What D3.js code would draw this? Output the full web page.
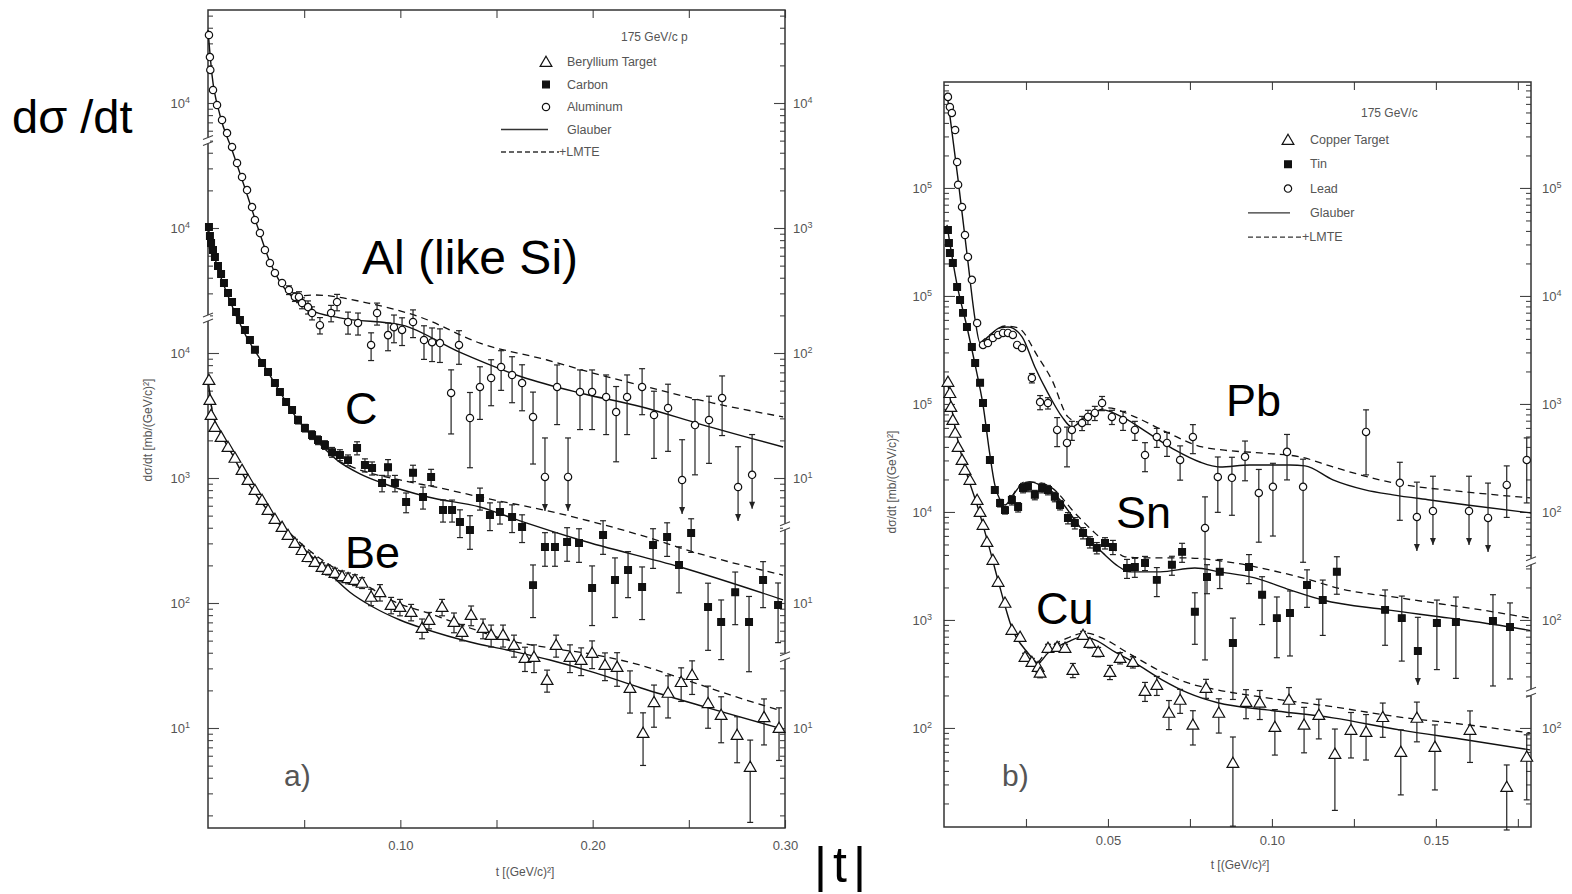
<!DOCTYPE html>
<html>
<head>
<meta charset="utf-8">
<script src="https://cdn.jsdelivr.net/npm/d3@7"></script>
<style>
  body { margin: 0; background: #fff; }
  svg { display: block; }
  .scan { font-family: "Liberation Sans", Arial, sans-serif; fill: #555; }
  .big { font-family: "Liberation Sans", Arial, sans-serif; fill: #000; }
</style>
</head>
<body>
<svg width="1572" height="894"></svg>
<script>
// ---------- panel a) 175 GeV/c p on Be, C, Al ----------
// points are [t, dsigma/dt, relative error]; e >= 1 means upper limit (arrow)
var beData = [[0.0005,6080,0.04],[0.0010,4210,0.04],[0.0016,3190,0.04],[0.0036,2560,0.04],[0.0068,2130,0.04],[0.0104,1770,0.04],[0.0140,1450,0.04],[0.0177,1160,0.05],[0.0208,964,0.05],[0.0244,802,0.05],[0.0281,667,0.05],[0.0312,555,0.05],[0.0348,470,0.06],[0.0385,406,0.06],[0.0416,350,0.06],[0.0452,302,0.07],[0.0489,265,0.07],[0.0520,233,0.08],[0.0556,213,0.08],[0.0593,194,0.08],[0.0624,184,0.09],[0.0660,174,0.09],[0.0697,164,0.1],[0.0728,158,0.1],[0.0764,153,0.1],[0.0801,145,0.1],[0.0848,112,0.15],[0.0894,122,0.15],[0.0952,96.4,0.15],[0.0998,92.9,0.15],[0.1056,84.7,0.15],[0.1113,63.1,0.18],[0.1149,73.1,0.15],[0.1217,92.9,0.15],[0.1279,70.5,0.18],[0.1321,58.6,0.15],[0.1368,80.2,0.18],[0.1430,63.1,0.18],[0.1472,55.5,0.2],[0.1534,55.5,0.2],[0.1591,46.1,0.2],[0.1648,36.3,0.22],[0.1695,37.0,0.25],[0.1763,24.2,0.2],[0.1810,46.1,0.2],[0.1882,37.0,0.25],[0.1940,35.0,0.25],[0.1997,39.8,0.25],[0.2064,31.9,0.25],[0.2127,30.8,0.3],[0.2194,20.9,0.37],[0.2262,9.12,0.45],[0.2319,16.1,0.37],[0.2392,19.1,0.37],[0.2460,23.3,0.3],[0.2517,26.5,0.3],[0.2600,15.8,0.37],[0.2668,12.7,0.4],[0.2751,8.79,0.4],[0.2819,4.88,0.64],[0.2891,12.2,0.4],[0.2969,10.0,0.45]];
var cData = [[0.0005,10200,0.03],[0.0010,8630,0.03],[0.0016,7590,0.03],[0.0026,6670,0.03],[0.0036,5860,0.03],[0.0052,4970,0.03],[0.0068,4290,0.03],[0.0083,3630,0.03],[0.0104,3020,0.03],[0.0125,2560,0.03],[0.0146,2130,0.04],[0.0166,1840,0.04],[0.0192,1530,0.04],[0.0218,1270,0.04],[0.0244,1060,0.05],[0.0281,832,0.05],[0.0312,705,0.05],[0.0348,575,0.05],[0.0374,488,0.06],[0.0406,406,0.06],[0.0437,350,0.06],[0.0468,291,0.07],[0.0504,251,0.07],[0.0541,221,0.08],[0.0572,201,0.08],[0.0608,184,0.08],[0.0645,161,0.09],[0.0686,153,0.1],[0.0728,139,0.1],[0.0775,174,0.12],[0.0816,127,0.12],[0.0853,120,0.12],[0.0905,91.2,0.15],[0.0936,122,0.15],[0.0972,91.2,0.15],[0.1030,64.3,0.18],[0.1066,110,0.15],[0.1118,70.5,0.2],[0.1160,102,0.15],[0.1222,55.5,0.2],[0.1269,55.5,0.2],[0.1310,44.5,0.25],[0.1362,38.4,0.3],[0.1414,69.2,0.2],[0.1466,50.6,0.25],[0.1518,53.5,0.2],[0.1581,48.8,0.25],[0.1633,40.6,0.25],[0.1690,13.9,0.45],[0.1752,28.1,0.3],[0.1804,28.1,0.3],[0.1867,30.8,0.3],[0.1929,30.2,0.3],[0.1997,13.2,0.5],[0.2054,35.0,0.3],[0.2116,15.3,0.5],[0.2184,18.4,0.4],[0.2257,13.4,0.45],[0.2314,29.1,0.35],[0.2387,33.7,0.3],[0.2449,20.1,0.4],[0.2512,36.3,0.3],[0.2600,9.29,0.55],[0.2668,7.05,0.5],[0.2741,12.2,0.45],[0.2813,7.05,0.6],[0.2886,15.3,0.4],[0.2964,9.64,0.5]];
var alData = [[0.0005,35000,0.03],[0.0010,23300,0.03],[0.0012,18400,0.03],[0.0026,12700,0.03],[0.0047,9640,0.03],[0.0073,7310,0.03],[0.0099,5750,0.03],[0.0125,4450,0.03],[0.0151,3310,0.03],[0.0177,2560,0.03],[0.0203,2010,0.04],[0.0229,1470,0.04],[0.0244,1160,0.04],[0.0270,912,0.04],[0.0296,667,0.05],[0.0322,525,0.05],[0.0348,437,0.06],[0.0385,363,0.06],[0.0421,319,0.08],[0.0452,281,0.08],[0.0473,281,0.1],[0.0489,251,0.1],[0.0520,233,0.12],[0.0541,209,0.12],[0.0582,167,0.15],[0.0640,209,0.15],[0.0671,256,0.15],[0.0728,177,0.2],[0.0780,174,0.2],[0.0848,116,0.25],[0.0879,209,0.2],[0.0936,139,0.25],[0.0967,161,0.25],[0.1009,153,0.25],[0.1066,177,0.25],[0.1123,127,0.3],[0.1165,122,0.3],[0.1206,120,0.3],[0.1264,47.9,0.53],[0.1305,116,0.3],[0.1362,30.2,0.6],[0.1414,53.5,0.45],[0.1472,63.1,0.4],[0.1524,77.3,0.35],[0.1581,66.7,0.4],[0.1633,57.5,0.4],[0.1690,30.8,0.58],[0.1752,10.2,1.05],[0.1815,53.5,0.5],[0.1872,10.2,1.05],[0.1934,48.8,0.5],[0.1997,48.8,0.5],[0.2070,44.5,0.5],[0.2122,33.7,0.6],[0.2179,44.5,0.5],[0.2257,53.5,0.4],[0.2319,31.9,0.55],[0.2392,36.3,0.55],[0.2465,9.64,1.1],[0.2532,26.5,0.6],[0.2605,29.1,0.55],[0.2673,43.7,0.5],[0.2756,8.47,1.1],[0.2829,10.6,1.1]];

var beGlauber = [[0,6310],[0.0021,3500],[0.0062,2330],[0.0114,1670],[0.0192,1000],[0.0281,631],[0.0374,421],[0.0504,265],[0.0624,177],[0.0738,122],[0.0858,92.9],[0.0998,73.1],[0.1144,60.8],[0.1362,48.8],[0.1555,42.1],[0.1778,35.0],[0.2018,27.5],[0.2252,20.9],[0.2600,14.5],[0.2969,10.0]];
var beLMTE = [[0,6310],[0.0021,3500],[0.0062,2330],[0.0114,1670],[0.0192,1000],[0.0281,631],[0.0374,437],[0.0504,281],[0.0634,201],[0.0801,145],[0.0972,102],[0.1144,83.2],[0.1362,63.1],[0.1555,50.6],[0.1778,43.7],[0.2018,38.4],[0.2246,31.9],[0.2486,24.2],[0.2715,18.4],[0.2969,13.9]];
var cGlauber = [[0,10200],[0.0036,5750],[0.0104,2860],[0.0192,1420],[0.0281,847],[0.0374,488],[0.0468,291],[0.0572,194],[0.0676,137],[0.0790,108],[0.0905,91.2],[0.1144,70.5],[0.1414,58.6],[0.1638,44.5],[0.1934,31.9],[0.2455,19.4],[0.2990,10.6]];
var cLMTE = [[0.0676,137],[0.0790,116],[0.0998,96.4],[0.1206,83.2],[0.1414,70.5],[0.1815,52.5],[0.2246,35.0],[0.2543,25.1],[0.2990,16.7]];
var alGlauber = [[0,38400],[0.0021,16700],[0.0062,8020],[0.0125,4210],[0.0192,2090],[0.0260,1000],[0.0322,535],[0.0374,370],[0.0437,281],[0.0530,221],[0.0686,191],[0.1009,167],[0.1305,102],[0.1633,64.3],[0.1934,47.9],[0.2257,37.0],[0.2558,27.0],[0.2990,17.7]];
var alLMTE = [[0.0437,281],[0.0556,291],[0.0832,251],[0.1102,194],[0.1414,120],[0.1763,87.9],[0.2038,66.7],[0.2283,53.5],[0.2626,39.8],[0.2990,30.8]];

// each target is moved up by a decade so the curves don't overlap
var beShift = 1, cShift = 10, alShift = 100;

var aXTicks = [0.05, 0.10, 0.15, 0.20, 0.25, 0.30];
var aXLabels = {"0.1": "0.10", "0.2": "0.20", "0.3": "0.30"};
var aDecades = [1, 2, 3, 4, 5, 6];
var aLeftExp = [1, 2, 3, 4, 4, 4];
var aRightExp = [1, 1, 1, 2, 3, 4];
var aLegend = ["Beryllium Target", "Carbon", "Aluminum", "Glauber", "+LMTE"];

// ---------- panel b) 175 GeV/c on Cu, Sn, Pb ----------
var cuData = [[0.0012,160000,0.03],[0.0018,126000,0.03],[0.0021,93800,0.03],[0.0027,71100,0.03],[0.0034,54000,0.03],[0.0043,40000,0.03],[0.0055,30300,0.03],[0.0064,24500,0.03],[0.0079,19800,0.03],[0.0101,12900,0.03],[0.0110,10000,0.03],[0.0119,7590,0.04],[0.0131,5270,0.04],[0.0149,3600,0.04],[0.0165,2250,0.05],[0.0186,1440,0.05],[0.0207,809,0.06],[0.0232,697,0.06],[0.0247,455,0.08],[0.0268,408,0.08],[0.0287,367,0.1],[0.0293,324,0.1],[0.0317,551,0.08],[0.0345,562,0.08],[0.0369,551,0.08],[0.0393,344,0.15],[0.0424,726,0.08],[0.0445,612,0.1],[0.0470,506,0.1],[0.0506,330,0.15],[0.0537,445,0.12],[0.0576,408,0.12],[0.0613,220,0.2],[0.0649,250,0.2],[0.0686,138,0.3],[0.0720,182,0.25],[0.0759,107,0.35],[0.0799,235,0.2],[0.0838,138,0.35],[0.0881,47.4,0.74],[0.0921,174,0.3],[0.0963,171,0.3],[0.1009,102,0.45],[0.1052,182,0.3],[0.1098,107,0.45],[0.1143,132,0.4],[0.1192,57.5,0.7],[0.1241,95.9,0.45],[0.1287,91.8,0.45],[0.1338,126,0.35],[0.1393,60.0,0.6],[0.1442,124,0.4],[0.1497,66.7,0.6],[0.1604,95.9,0.5],[0.1716,28.4,0.6],[0.1777,54.0,0.6]];
var snData = [[0.0012,408000,0.03],[0.0015,310000,0.03],[0.0018,250000,0.03],[0.0027,202000,0.03],[0.0040,121000,0.03],[0.0049,91800,0.03],[0.0058,69700,0.03],[0.0070,51600,0.03],[0.0085,33700,0.03],[0.0095,24000,0.03],[0.0110,15700,0.03],[0.0119,10200,0.04],[0.0128,6000,0.04],[0.0140,3030,0.05],[0.0155,1600,0.06],[0.0171,1210,0.08],[0.0186,1040,0.08],[0.0207,1290,0.1],[0.0226,1110,0.1],[0.0241,1670,0.1],[0.0256,1710,0.1],[0.0277,1440,0.1],[0.0299,1670,0.1],[0.0317,1600,0.1],[0.0338,1380,0.1],[0.0354,1160,0.1],[0.0378,881,0.12],[0.0399,791,0.12],[0.0424,640,0.12],[0.0445,527,0.12],[0.0466,465,0.12],[0.0491,516,0.12],[0.0515,474,0.15],[0.0558,303,0.2],[0.0582,310,0.2],[0.0613,337,0.15],[0.0649,235,0.3],[0.0695,324,0.2],[0.0726,427,0.2],[0.0765,119,0.5],[0.0802,250,0.3],[0.0841,279,0.3],[0.0881,61.2,0.7],[0.0930,310,0.3],[0.0970,171,0.47],[0.1015,104,0.57],[0.1055,116,0.6],[0.1107,211,0.38],[0.1155,153,0.53],[0.1198,279,0.38],[0.1345,124,0.53],[0.1396,104,0.6],[0.1445,51.6,1.05],[0.1503,93.8,0.63],[0.1561,95.9,0.7],[0.1674,97.9,0.75],[0.1726,86.1,0.67]];
var pbData = [[0.0012,697000,0.03],[0.0018,562000,0.03],[0.0024,495000,0.03],[0.0034,344000,0.03],[0.0040,174000,0.03],[0.0043,107000,0.03],[0.0055,66700,0.03],[0.0064,36700,0.03],[0.0073,23000,0.03],[0.0085,14100,0.03],[0.0101,5620,0.04],[0.0119,3520,0.04],[0.0134,3670,0.04],[0.0149,4080,0.04],[0.0165,4360,0.04],[0.0180,4550,0.04],[0.0195,4550,0.04],[0.0210,4360,0.05],[0.0223,3520,0.05],[0.0238,3300,0.05],[0.0268,1740,0.1],[0.0293,1040,0.15],[0.0317,1020,0.12],[0.0345,575,0.3],[0.0375,436,0.4],[0.0390,575,0.2],[0.0421,667,0.15],[0.0439,759,0.15],[0.0460,826,0.15],[0.0482,1020,0.15],[0.0512,759,0.15],[0.0546,711,0.2],[0.0582,575,0.2],[0.0613,337,0.3],[0.0649,495,0.2],[0.0680,436,0.25],[0.0720,303,0.35],[0.0759,495,0.3],[0.0796,71.1,0.94],[0.0835,211,0.53],[0.0878,207,0.55],[0.0918,324,0.4],[0.0960,150,0.65],[0.1003,171,0.65],[0.1046,360,0.45],[0.1095,171,0.8],[0.1287,551,0.6],[0.1390,186,0.55],[0.1442,89.9,1.1],[0.1491,102,1.1],[0.1601,102,1.1],[0.1659,88.1,1.1],[0.1716,178,0.5],[0.1777,303,0.6]];

var cuGlauber = [[0.0009,174000],[0.0034,60000],[0.0064,25600],[0.0101,11600],[0.0140,4450],[0.0171,1980],[0.0207,843],[0.0256,495],[0.0287,400],[0.0317,495],[0.0378,627],[0.0421,697],[0.0460,653],[0.0521,506],[0.0582,400],[0.0665,279],[0.0744,211],[0.0835,171],[0.0985,147],[0.1186,124],[0.1390,95.9],[0.1595,77.4],[0.1787,62.7]];
var cuLMTE = [[0.0287,400],[0.0317,527],[0.0378,682],[0.0430,759],[0.0482,682],[0.0561,495],[0.0665,330],[0.0744,261],[0.0835,225],[0.0985,190],[0.1186,157],[0.1390,126],[0.1595,107],[0.1787,89.9]];
var snGlauber = [[0.0009,455000],[0.0040,126000],[0.0070,51600],[0.0095,23000],[0.0119,9790],[0.0140,3370],[0.0155,1780],[0.0171,1290],[0.0186,1160],[0.0207,1380],[0.0232,1740],[0.0262,1900],[0.0293,1780],[0.0323,1600],[0.0354,1290],[0.0399,843],[0.0445,551],[0.0491,400],[0.0530,316],[0.0567,279],[0.0659,279],[0.0765,303],[0.0841,279],[0.0948,245],[0.1055,190],[0.1155,153],[0.1351,124],[0.1543,104],[0.1726,86.1],[0.1787,80]];
var snLMTE = [[0.0207,1380],[0.0247,1900],[0.0293,1860],[0.0329,1670],[0.0399,979],[0.0460,640],[0.0512,474],[0.0552,384],[0.0634,375],[0.0735,375],[0.0887,337],[0.0994,290],[0.1116,235],[0.1198,198],[0.1390,160],[0.1674,119],[0.1787,104]];
var pbGlauber = [[0.0009,759000],[0.0043,119000],[0.0073,20700],[0.0095,6000],[0.0110,3670],[0.0134,4180],[0.0170,5060],[0.0195,5160],[0.0238,4180],[0.0277,2200],[0.0317,1260],[0.0360,759],[0.0390,612],[0.0430,759],[0.0482,881],[0.0543,759],[0.0622,540],[0.0704,375],[0.0780,290],[0.0841,261],[0.0933,272],[0.1055,272],[0.1101,267],[0.1186,198],[0.1284,160],[0.1369,144],[0.1482,129],[0.1595,116],[0.1790,97.9]];
var pbLMTE = [[0.0110,3670],[0.0140,4360],[0.0186,5270],[0.0226,5060],[0.0287,2720],[0.0329,1670],[0.0378,759],[0.0409,682],[0.0451,809],[0.0500,918],[0.0582,759],[0.0683,540],[0.0787,400],[0.0848,375],[0.0963,352],[0.1085,324],[0.1186,261],[0.1369,186],[0.1595,153],[0.1787,135]];

var cuShift = 1, snShift = 10, pbShift = 100;

var bXTicks = [0.025, 0.05, 0.075, 0.10, 0.125, 0.15, 0.175];
var bXLabels = {"0.05": "0.05", "0.1": "0.10", "0.15": "0.15"};
var bDecades = [2, 3, 4, 5, 6, 7];
var bLeftExp = [2, 3, 4, 5, 5, 5];
var bRightExp = [2, 2, 2, 3, 4, 5];
var bLegend = ["Copper Target", "Tin", "Lead", "Glauber", "+LMTE"];

var svg = d3.select("svg");

function superLabel(sel, exps, decades) {
  sel.selectAll(".tick text").each(function(d) {
    var i = decades.indexOf(Math.round(Math.log10(d)));
    var t = d3.select(this).text("10");
    t.append("tspan").attr("dy", "-0.55em").attr("font-size", "9px").text(exps[i]);
  });
}

function marker(g, type, cx, cy) {
  var sym = type == "circle" ? d3.symbolCircle : type == "square" ? d3.symbolSquare : d3.symbolTriangle;
  var size = type == "circle" ? 42 : type == "square" ? 46 : 60;
  g.append("path")
    .attr("d", d3.symbol().type(sym).size(size)())
    .attr("transform", "translate(" + cx + "," + (type == "triangle" ? cy + 1 : cy) + ")")
    .attr("fill", type == "square" ? "#111" : "#fff")
    .attr("stroke", "#111").attr("stroke-width", 1.2);
}

function drawPanel(p) {
  var g = svg.append("g");
  var x = d3.scaleLinear().domain(p.xDomain).range([p.left, p.right]);
  var y = d3.scaleLog().domain(p.yDomain).range([p.bottom, p.top]);

  // x axes, ticks inside the frame
  g.append("g").attr("transform", "translate(0," + p.bottom + ")")
    .call(d3.axisBottom(x).tickValues(p.xTicks).tickSize(-8).tickPadding(p.xPad)
      .tickFormat(function(t) { return p.xLabels[String(+t.toFixed(3))] || ""; }));
  g.append("g").attr("transform", "translate(0," + p.top + ")")
    .call(d3.axisTop(x).tickValues(p.xTicks).tickSize(-8).tickFormat(""));

  // log y axes: majors with labels, minors without
  var majors = p.decades.map(function(d) { return Math.pow(10, d); });
  var minors = [];
  for (var d = Math.floor(Math.log10(p.yDomain[0])); d <= Math.ceil(Math.log10(p.yDomain[1])); d++) {
    for (var k = 2; k < 10; k++) {
      var v = k * Math.pow(10, d);
      if (v > p.yDomain[0] && v < p.yDomain[1]) minors.push(v);
    }
  }
  var yl = g.append("g").attr("transform", "translate(" + p.left + ",0)")
    .call(d3.axisLeft(y).tickValues(majors).tickSize(-11).tickPadding(p.leftPad));
  superLabel(yl, p.leftExp, p.decades);
  g.append("g").attr("transform", "translate(" + p.left + ",0)")
    .call(d3.axisLeft(y).tickValues(minors).tickSize(-5).tickFormat(""));
  var yr = g.append("g").attr("transform", "translate(" + p.right + ",0)")
    .call(d3.axisRight(y).tickValues(majors).tickSize(-11).tickPadding(p.rightPad));
  superLabel(yr, p.rightExp, p.decades);
  g.append("g").attr("transform", "translate(" + p.right + ",0)")
    .call(d3.axisRight(y).tickValues(minors).tickSize(-5).tickFormat(""));

  g.selectAll(".domain").remove();
  g.selectAll(".tick line").attr("stroke", "#444").attr("stroke-width", 1.1);
  g.selectAll(".tick text").attr("class", "scan").attr("font-size", "13px")
    .attr("font-family", "Liberation Sans, Arial, sans-serif").attr("fill", "#555");

  g.append("rect")
    .attr("x", p.left).attr("y", p.top)
    .attr("width", p.right - p.left).attr("height", p.bottom - p.top)
    .attr("fill", "none").attr("stroke", "#333").attr("stroke-width", 1.5);

  // scale breaks on the side axes
  p.breaks.forEach(function(b) {
    var bx = b[0] == "L" ? p.left : p.right, by = y(b[1]);
    g.append("rect").attr("x", bx - 2).attr("y", by - 3).attr("width", 4).attr("height", 6).attr("fill", "#fff");
    [-3, 3].forEach(function(o) {
      g.append("line").attr("x1", bx - 5).attr("x2", bx + 5)
        .attr("y1", by + o + 2).attr("y2", by + o - 2)
        .attr("stroke", "#444").attr("stroke-width", 1.1);
    });
  });

  // theory curves
  p.series.forEach(function(s) {
    var line = d3.line()
      .x(function(d) { return x(d[0]); })
      .y(function(d) { return y(d[1] * s.shift); })
      .curve(d3.curveMonotoneX);
    g.append("path").datum(s.glauber).attr("d", line)
      .attr("fill", "none").attr("stroke", "#111").attr("stroke-width", 1.4);
    g.append("path").datum(s.lmte).attr("d", line)
      .attr("fill", "none").attr("stroke", "#111").attr("stroke-width", 1.3)
      .attr("stroke-dasharray", "7,5");
  });

  // error bars, upper limits get an arrow
  p.series.forEach(function(s) {
    s.data.forEach(function(d) {
      var cx = x(d[0]), cy = y(d[1] * s.shift);
      var top = y(d[1] * (1 + d[2]) * s.shift);
      var limit = d[2] >= 1;
      var bot = limit ? cy + 34 : y(d[1] * (1 - d[2]) * s.shift);
      if (bot - top < 7) return;
      g.append("line").attr("x1", cx).attr("x2", cx).attr("y1", top).attr("y2", bot)
        .attr("stroke", "#222").attr("stroke-width", 1.2);
      g.append("line").attr("x1", cx - 3).attr("x2", cx + 3).attr("y1", top).attr("y2", top)
        .attr("stroke", "#222").attr("stroke-width", 1.2);
      if (limit) {
        g.append("path").attr("d", "M" + (cx - 3) + "," + (bot - 7) + "L" + cx + "," + bot + "L" + (cx + 3) + "," + (bot - 7) + "Z")
          .attr("fill", "#222");
      } else {
        g.append("line").attr("x1", cx - 3).attr("x2", cx + 3).attr("y1", bot).attr("y2", bot)
          .attr("stroke", "#222").attr("stroke-width", 1.2);
      }
    });
  });
  p.series.forEach(function(s) {
    s.data.forEach(function(d) { marker(g, s.type, x(d[0]), y(d[1] * s.shift)); });
  });

  // legend
  var lg = p.legend;
  g.append("text").attr("class", "scan").attr("font-size", "12px")
    .attr("x", lg.titleX).attr("y", lg.titleY).text(lg.title);
  ["triangle", "square", "circle"].forEach(function(tp, i) {
    var ly = lg.y0 + i * lg.dy;
    marker(g, tp, lg.markX, ly);
    g.append("text").attr("class", "scan").attr("font-size", "12.5px")
      .attr("x", lg.textX).attr("y", ly + 4).text(lg.labels[i]);
  });
  var gy = lg.y0 + 3 * lg.dy, dy = lg.y0 + 4 * lg.dy;
  g.append("line").attr("x1", lg.lineX).attr("x2", lg.markX + 2).attr("y1", gy).attr("y2", gy)
    .attr("stroke", "#333").attr("stroke-width", 1.3);
  g.append("text").attr("class", "scan").attr("font-size", "12.5px")
    .attr("x", lg.textX).attr("y", gy + 4).text(lg.labels[3]);
  g.append("line").attr("x1", lg.lineX).attr("x2", lg.textX - 8).attr("y1", dy).attr("y2", dy)
    .attr("stroke", "#333").attr("stroke-width", 1.3).attr("stroke-dasharray", "5,3");
  g.append("text").attr("class", "scan").attr("font-size", "12.5px")
    .attr("x", lg.textX - 8).attr("y", dy + 4).text(lg.labels[4]);

  // axis titles and panel tag
  g.append("text").attr("class", "scan").attr("font-size", "12px")
    .attr("text-anchor", "middle")
    .attr("transform", "translate(" + p.yTitle[0] + "," + p.yTitle[1] + ") rotate(-90)")
    .text("dσ/dt [mb/(GeV/c)²]");
  g.append("text").attr("class", "scan").attr("font-size", "12px")
    .attr("text-anchor", "middle").attr("x", p.xTitle[0]).attr("y", p.xTitle[1])
    .text("t [(GeV/c)²]");
  g.append("text").attr("class", "scan").attr("font-size", "30px").attr("fill", "#666")
    .attr("x", p.tag[0]).attr("y", p.tag[1]).text(p.tag[2]);
}

drawPanel({
  xDomain: [0, 0.30], yDomain: [Math.pow(10, 0.2), Math.pow(10, 6.744)],
  left: 208, right: 785, top: 10, bottom: 828,
  xTicks: aXTicks, xLabels: aXLabels, xPad: 13,
  decades: aDecades, leftExp: aLeftExp, rightExp: aRightExp, leftPad: 18, rightPad: 8,
  breaks: [["L", Math.pow(10, 5.7)], ["L", Math.pow(10, 4.28)], ["R", Math.pow(10, 2.61)], ["R", Math.pow(10, 1.57)]],
  series: [
    {data: beData, glauber: beGlauber, lmte: beLMTE, shift: beShift, type: "triangle"},
    {data: cData, glauber: cGlauber, lmte: cLMTE, shift: cShift, type: "square"},
    {data: alData, glauber: alGlauber, lmte: alLMTE, shift: alShift, type: "circle"}
  ],
  legend: {title: "175 GeV/c  p", titleX: 621, titleY: 41, markX: 546, textX: 567, lineX: 501, y0: 62, dy: 22.5, labels: aLegend},
  yTitle: [152, 430], xTitle: [525, 876], tag: [284, 786, "a)"]
});

drawPanel({
  xDomain: [0, 0.179], yDomain: [Math.pow(10, 1.083), Math.pow(10, 7.981)],
  left: 944, right: 1531, top: 82, bottom: 827,
  xTicks: bXTicks, xLabels: bXLabels, xPad: 9,
  decades: bDecades, leftExp: bLeftExp, rightExp: bRightExp, leftPad: 12, rightPad: 11,
  breaks: [["R", Math.pow(10, 3.54)], ["R", Math.pow(10, 2.33)]],
  series: [
    {data: cuData, glauber: cuGlauber, lmte: cuLMTE, shift: cuShift, type: "triangle"},
    {data: snData, glauber: snGlauber, lmte: snLMTE, shift: snShift, type: "square"},
    {data: pbData, glauber: pbGlauber, lmte: pbLMTE, shift: pbShift, type: "circle"}
  ],
  legend: {title: "175 GeV/c", titleX: 1361, titleY: 117, markX: 1288, textX: 1310, lineX: 1248, y0: 140, dy: 24.3, labels: bLegend},
  yTitle: [896, 482], xTitle: [1240, 869], tag: [1002, 786, "b)"]
});

// hand-written annotations on top of the figure
var notes = [["dσ /dt", 12, 133, 47], ["Al (like Si)", 362, 274, 48], ["C", 345, 424, 45], ["Be", 345, 568, 45],
             ["Pb", 1226, 416, 45], ["Sn", 1116, 528, 45], ["Cu", 1036, 624, 45]];
notes.forEach(function(n) {
  svg.append("text").attr("class", "big").attr("font-size", n[3] + "px")
    .attr("x", n[1]).attr("y", n[2]).text(n[0]);
});
svg.append("text").attr("class", "big").attr("font-size", "50px").attr("letter-spacing", "6px")
  .attr("x", 814).attr("y", 882).text("|t|");
</script>
</body>
</html>
